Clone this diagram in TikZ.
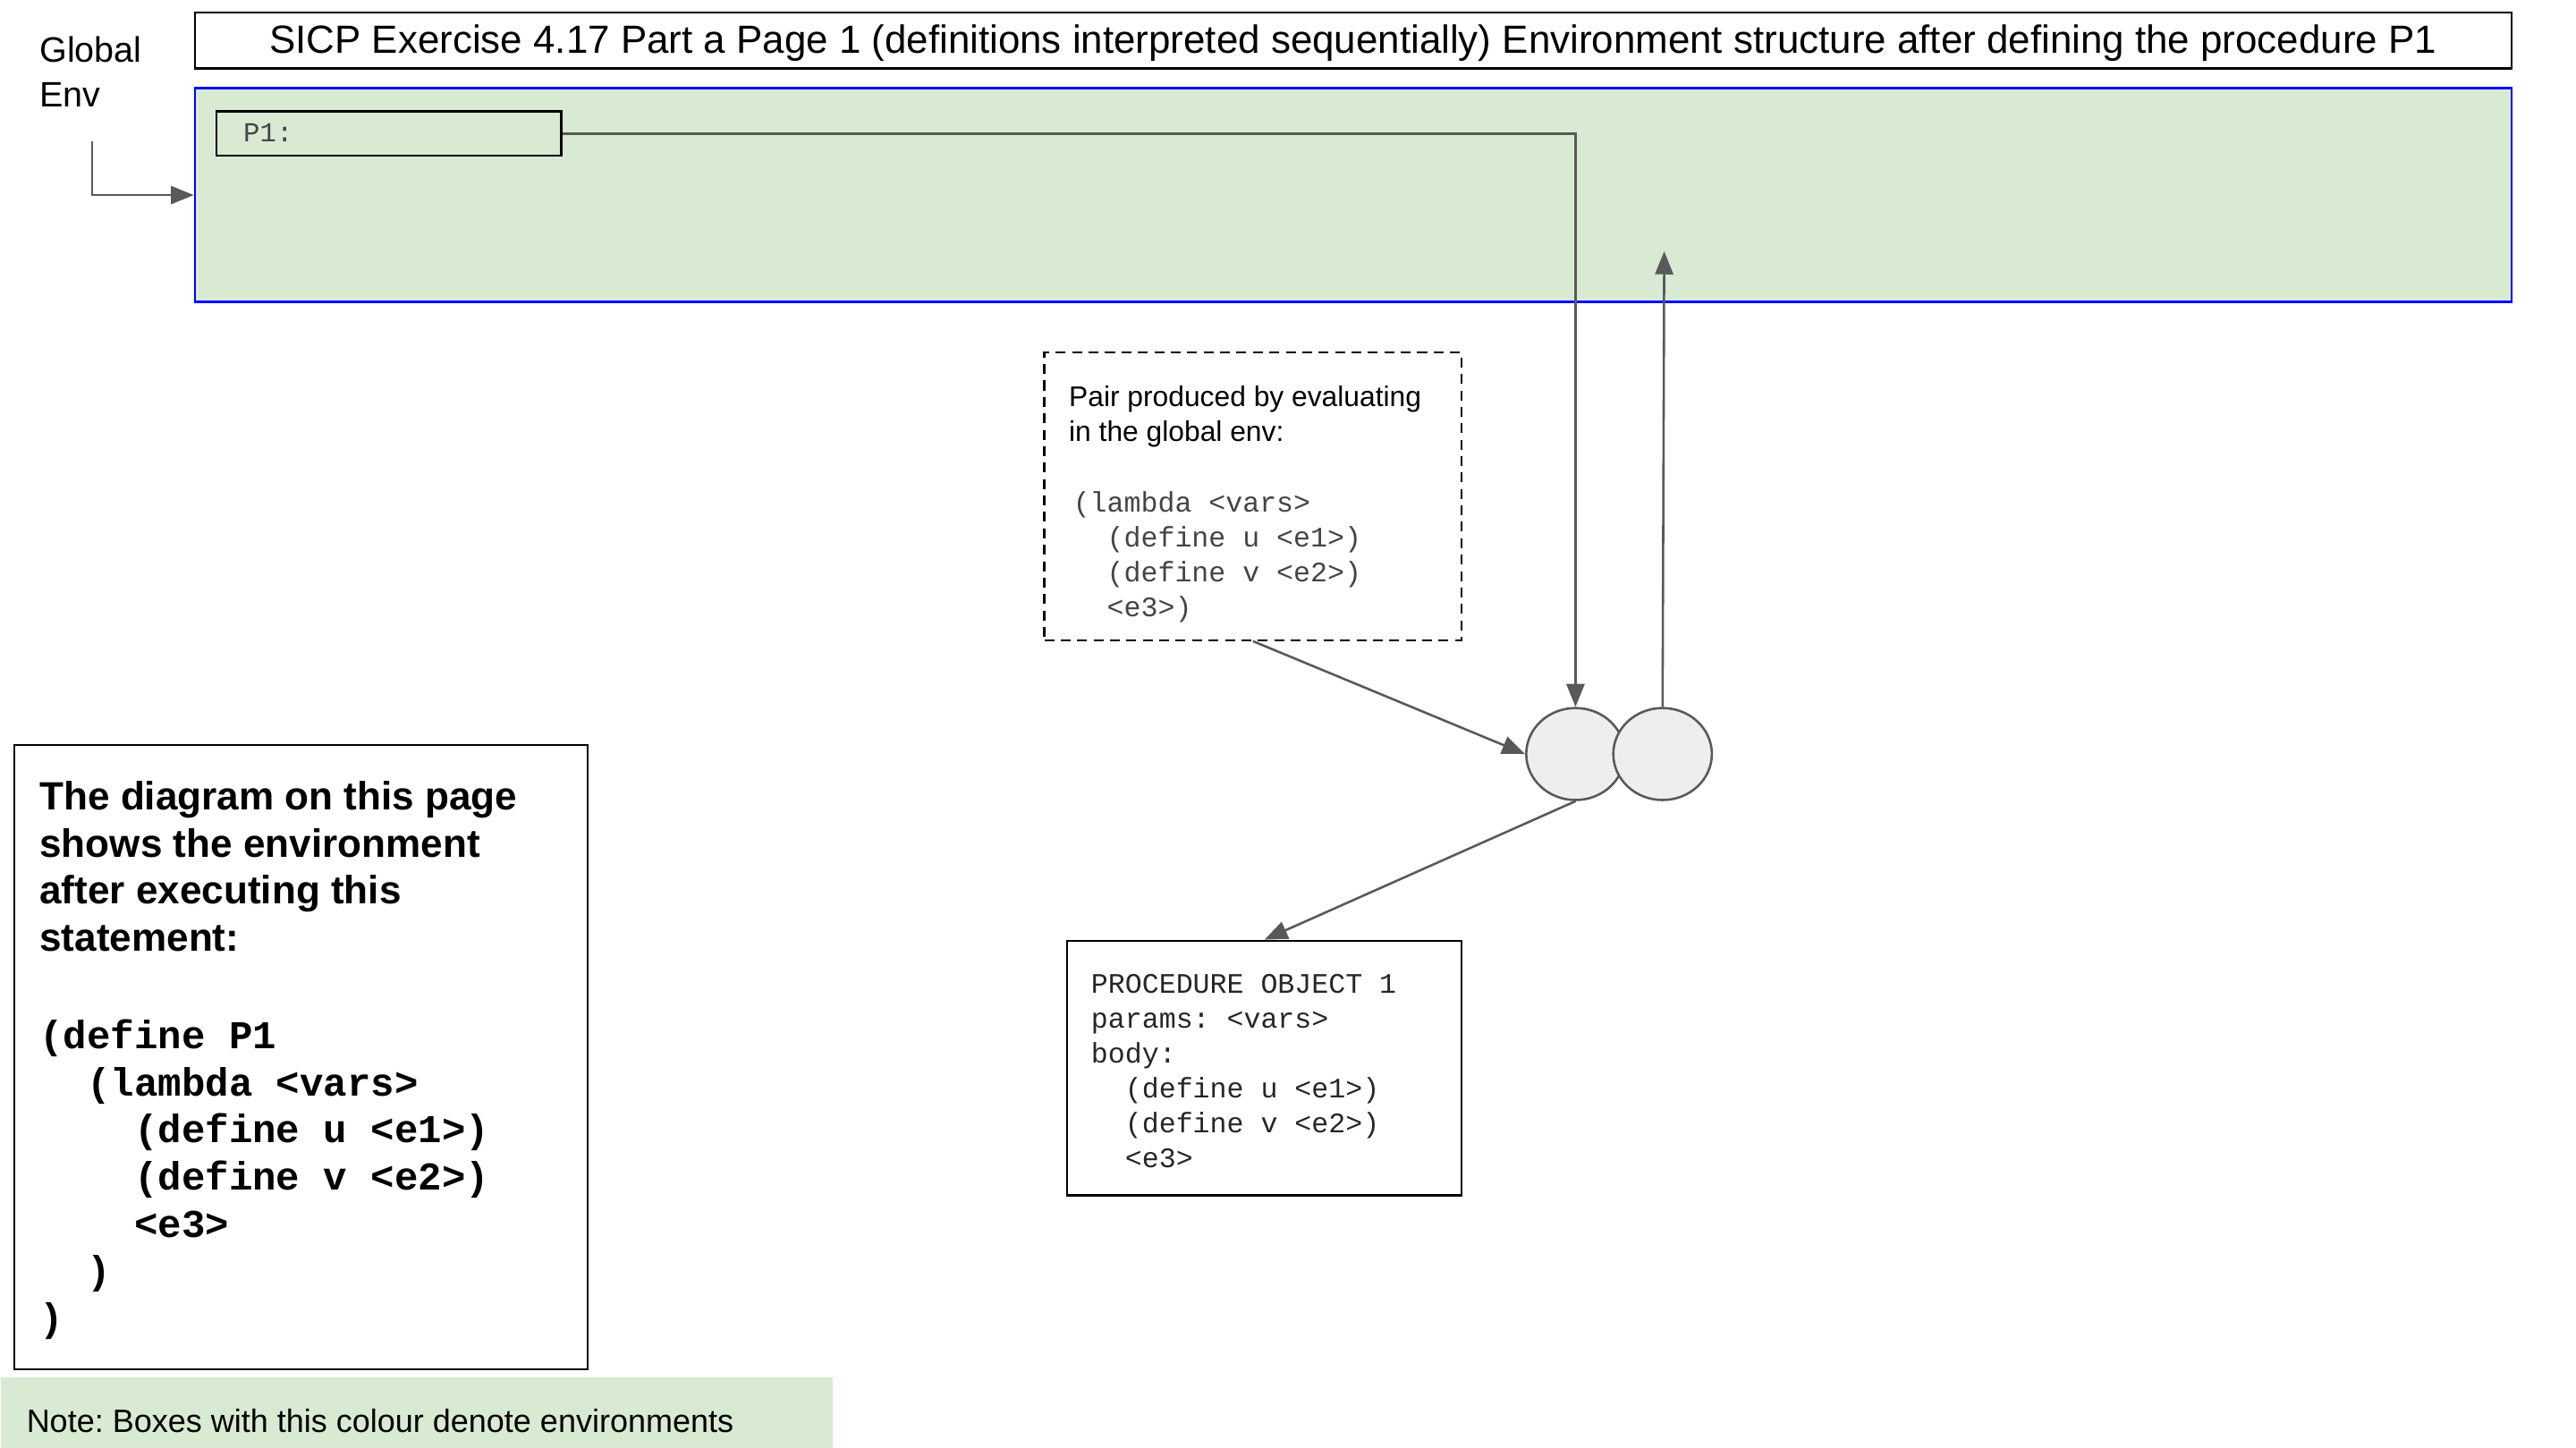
\documentclass[tikz,border=0pt]{standalone}
\usepackage{fontspec}
\setmainfont{Liberation Sans}
\setmonofont{Liberation Mono}
\usetikzlibrary{arrows.meta,shapes.geometric}
\definecolor{envgreen}{HTML}{D9EAD3}
\definecolor{arrowgray}{HTML}{595959}
\definecolor{pairfill}{HTML}{EEEEEE}
\definecolor{codegray}{HTML}{444444}
\newcommand{\sz}[2]{\fontsize{#1}{#2}\selectfont}
\frenchspacing
\begin{document}
\begin{tikzpicture}[x=1pt,y=-1pt,
  conn/.style={draw=arrowgray, line width=1.4pt, -{Triangle[length=14pt,width=11pt]}},
  boxframe/.style={draw=black, line width=1.3pt, inner sep=0pt, anchor=north west},
  txt/.style={inner sep=0pt, anchor=north west, align=left},
  conscell/.style={ellipse, draw=arrowgray, fill=pairfill, line width=1.4pt, minimum width=60pt, minimum height=56pt, inner sep=0pt}
]
\useasboundingbox (0,0) rectangle (1568,881);

% title
\node[boxframe, minimum width=1410pt, minimum height=34pt] (title) at (118,7) {};
\node[inner sep=0pt, font=\sz{23.9}{28}] (titletxt) at ([yshift=-1.5pt]title.center)
  {SICP Exercise 4.17 Part a Page 1 (definitions interpreted sequentially) Environment structure after defining the procedure P1};

% global env frame
\node[boxframe, draw=blue, fill=envgreen, line width=1.5pt, minimum width=1410pt, minimum height=130pt] (env) at (118,53) {};
\node[boxframe, fill=envgreen, line width=1.5pt, minimum width=210pt, minimum height=27pt] (p1box) at (131,67) {};
\node[txt, anchor=west, font=\ttfamily\sz{16.7}{20}, text=codegray] (p1lbl) at (148,81) {P1:};

% Global Env label
\node[txt, font=\sz{21.5}{27}] (glabel) at (24,22.3) {Global\\Env};
\coordinate (gstart) at (56,86);
\draw[conn] (gstart) |- (env.west);

% dashed note
\node[boxframe, dashed, dash pattern=on 6pt off 4pt, minimum width=254pt, minimum height=175pt] (pairnote) at (635,214) {};
\node[txt, font=\sz{17.3}{21.3}] (pairtxt) at (650.5,234.8) {Pair produced by evaluating\\in the global env:};
\node[txt, font=\ttfamily\sz{17.2}{21.3}, text=codegray] (paircode) at (653,298.8)
  {(lambda <vars>\\\hphantom{xx}(define u <e1>)\\\hphantom{xx}(define v <e2>)\\\hphantom{xx}<e3>)};

% pair cells
\node[conscell] (carL) at (959,459) {};
\node[conscell] (cdrR) at (1012,459) {};

% procedure object
\node[boxframe, minimum width=240pt, minimum height=155pt] (proc) at (649,572) {};
\node[txt, font=\ttfamily\sz{17.2}{21.2}, text=black!85] (proctxt) at (664,592.8)
  {PROCEDURE OBJECT 1\\params: <vars>\\body:\\\hphantom{xx}(define u <e1>)\\\hphantom{xx}(define v <e2>)\\\hphantom{xx}<e3>};

% description
\node[boxframe, minimum width=349pt, minimum height=380pt] (desc) at (8,453) {};
\node[txt, font=\bfseries\sz{24}{28.7}] (desctxt) at (24,475.4)
  {The diagram on this page\\shows the environment\\after executing this\\statement:};
\node[txt, font=\ttfamily\bfseries\sz{24}{28.7}] (desccode) at (24,620.3)
  {(define P1\\\hphantom{xx}(lambda <vars>\\\hphantom{xxxx}(define u <e1>)\\\hphantom{xxxx}(define v <e2>)\\\hphantom{xxxx}<e3>\\\hphantom{xx})\\)};

% note
\node[boxframe, draw=none, fill=envgreen, minimum width=506pt, minimum height=43pt] (notebox) at (0,838) {};
\node[txt, anchor=west, font=\sz{19.6}{24}] (notetxt) at (16,865) {Note: Boxes with this colour denote environments};

% connectors
\coordinate (envpt) at (1013,153);
\draw[conn] (p1box.east) -| (carL.north);
\draw[conn] (cdrR.north) -- (envpt);
\draw[conn] (pairnote.south) -- (carL.west);
\draw[conn] (carL.south) -- (proc.north);
\end{tikzpicture}
\end{document}
